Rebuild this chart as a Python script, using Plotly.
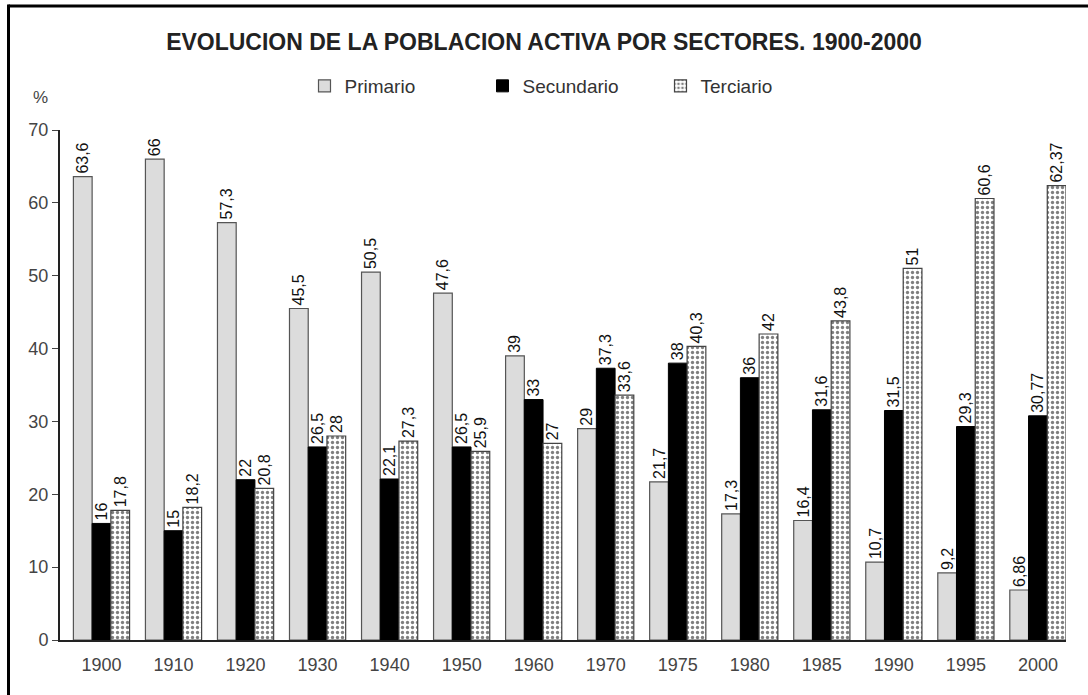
import plotly.graph_objects as go

years = ["1900", "1910", "1920", "1930", "1940", "1950", "1960", "1970",
         "1975", "1980", "1985", "1990", "1995", "2000"]
primario = [63.6, 66, 57.3, 45.5, 50.5, 47.6, 39, 29, 21.7, 17.3, 16.4, 10.7, 9.2, 6.86]
secundario = [16, 15, 22, 26.5, 22.1, 26.5, 33, 37.3, 38, 36, 31.6, 31.5, 29.3, 30.77]
terciario = [17.8, 18.2, 20.8, 28, 27.3, 25.9, 27, 33.6, 40.3, 42, 43.8, 51, 60.6, 62.37]

FONT = "Liberation Sans, Arial, sans-serif"


def fmt(vals):
    return [("%g" % v).replace(".", ",") for v in vals]


fig = go.Figure()
common = dict(textposition="outside", textangle=-90, cliponaxis=False,
              constraintext="none",
              textfont=dict(family=FONT, size=16, color="#111"))

fig.add_trace(go.Bar(name="Primario", x=years, y=primario, text=fmt(primario),
                     marker=dict(color="#dcdcdc", line=dict(color="#555", width=1.2)),
                     **common))
fig.add_trace(go.Bar(name="Secundario", x=years, y=secundario, text=fmt(secundario),
                     marker=dict(color="#000000", line=dict(color="#000", width=1)),
                     **common))
fig.add_trace(go.Bar(name="Terciario", x=years, y=terciario, text=fmt(terciario),
                     marker=dict(color="white",
                                 pattern=dict(shape=".", fgcolor="#000", bgcolor="white",
                                              size=5, solidity=0.35),
                                 line=dict(color="#444", width=1.2)),
                     **common))

fig.update_layout(
    width=1088, height=695,
    margin=dict(l=60, r=22, t=130, b=55),
    paper_bgcolor="white", plot_bgcolor="white",
    barmode="group", bargap=0.22, bargroupgap=0,
    font=dict(family=FONT, color="#333"),
    title=dict(text="<b>EVOLUCION DE LA POBLACION ACTIVA POR SECTORES. 1900-2000</b>",
               x=0.5, xanchor="center", xref="container",
               y=1 - 42 / 695, yanchor="middle", yref="container",
               font=dict(family=FONT, size=23, color="#222")),
    legend=dict(orientation="h", x=(304.5 - 60) / 1006, xanchor="left",
                y=(640 - 86) / 510, yanchor="middle",
                entrywidth=133, entrywidthmode="pixels",
                font=dict(family=FONT, size=19, color="#333"),
                bgcolor="rgba(0,0,0,0)"),
    showlegend=True,
    xaxis=dict(type="category", range=[-0.576, 13.39], showgrid=False,
               showline=True, linecolor="#222", linewidth=2, ticks="",
               ticklabelstandoff=7,
               tickfont=dict(family=FONT, size=18, color="#444")),
    yaxis=dict(range=[0, 70], dtick=10, showgrid=False, zeroline=False,
               showline=True, linecolor="#222", linewidth=2,
               ticks="outside", ticklen=6, tickcolor="#444", tickwidth=1.2,
               tickfont=dict(family=FONT, size=18, color="#444")),
    annotations=[dict(text="%", xref="paper", yref="paper",
                      x=(40 - 60) / 1006, y=(640 - 97) / 510,
                      xanchor="center", yanchor="middle", showarrow=False,
                      font=dict(family=FONT, size=17, color="#444"))],
    shapes=[
        dict(type="line", xref="paper", yref="paper",
             x0=(8.5 - 60) / 1006, x1=(8.5 - 60) / 1006,
             y0=(640 - 700) / 510, y1=(640 - 4.5) / 510,
             line=dict(color="black", width=3)),
        dict(type="line", xref="paper", yref="paper",
             x0=(8.5 - 60) / 1006, x1=(1095 - 60) / 1006,
             y0=(640 - 6) / 510, y1=(640 - 6) / 510,
             line=dict(color="black", width=3)),
    ],
)

fig.write_html("out.html", config={"displayModeBar": False},
               post_script="document.body.style.margin='0';")
